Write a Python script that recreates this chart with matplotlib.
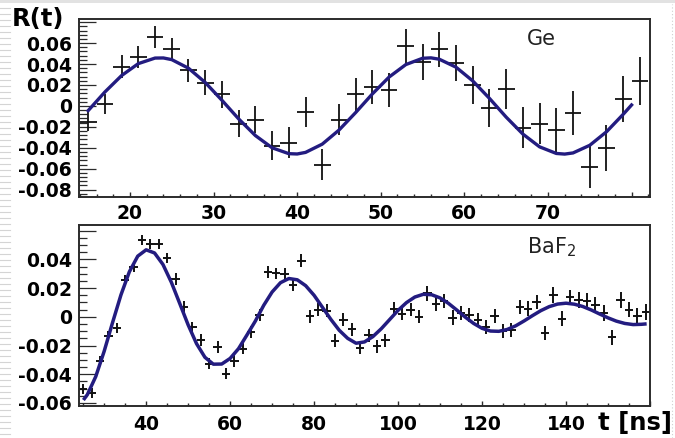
import numpy as np
import matplotlib
matplotlib.use("Agg")
import matplotlib.pyplot as plt
from matplotlib.ticker import MultipleLocator, FixedLocator, FuncFormatter
from matplotlib.lines import Line2D
from matplotlib.patches import Rectangle

plt.rcParams['font.family'] = ['DejaVu Sans']
plt.rcParams['axes.unicode_minus'] = False

# --- Ge: R(t) por bin de 2 ns ---
ge_t = [15, 17, 19, 21, 23, 25, 27, 29, 31, 33, 35, 37, 39, 41, 43, 45, 47,
        49, 51, 53, 55, 57, 59, 61, 63, 65, 67, 69, 71, 73, 75, 77, 79, 81]
ge_r = [-0.015, 0.002, 0.0376, 0.0466, 0.066, 0.054, 0.034, 0.022, 0.011,
        -0.017, -0.013, -0.038, -0.035, -0.006, -0.056, -0.013, 0.011, 0.018,
        0.015, 0.057, 0.042, 0.054, 0.041, 0.020, -0.002, 0.016, -0.021,
        -0.017, -0.023, -0.007, -0.058, -0.0405, 0.0067, 0.024]
ge_err = [0.0088, 0.0096, 0.011, 0.0104, 0.0107, 0.0108, 0.011, 0.012, 0.0128,
          0.0128, 0.013, 0.0136, 0.0144, 0.0144, 0.015, 0.015, 0.0156, 0.016,
          0.016, 0.0167, 0.017, 0.0167, 0.017, 0.018, 0.018, 0.019, 0.0195,
          0.0196, 0.021, 0.021, 0.020, 0.022, 0.022, 0.023]

# curva de ajuste Ge
ge_fit_t = [15, 17, 19, 21, 23, 24, 25, 27, 29, 31, 33, 35, 37, 39, 40, 41, 43,
            45, 47, 49, 51, 53, 55, 56, 57, 59, 61, 63, 65, 67, 69, 71, 72, 73,
            75, 77, 79, 80]
ge_fit_r = [-0.0045, 0.0133, 0.0290, 0.0404, 0.0457, 0.0458, 0.0442, 0.0360,
            0.0224, 0.0054, -0.0124, -0.0283, -0.0400, -0.0456, -0.0459,
            -0.0444, -0.0365, -0.0231, -0.0063, 0.0115, 0.0276, 0.0395, 0.0455,
            0.0459, 0.0446, 0.0370, 0.0239, 0.0072, -0.0107, -0.0269, -0.0391,
            -0.0454, -0.0460, -0.0449, -0.0376, -0.0247, -0.0080, 0.0009]

# --- BaF2 ---
baf_t = [25, 27, 29, 31, 33, 35, 37, 39, 41, 43, 45, 47, 49, 51, 53, 55, 57,
         59, 61, 63, 65, 67, 69, 71, 73, 75, 77, 79, 81, 83, 85, 87, 89, 91,
         93, 95, 97, 99, 101, 103, 105, 107, 109, 111, 113, 115, 117, 119,
         121, 123, 125, 127, 129, 131, 133, 135, 137, 139, 141, 143, 145,
         147, 149, 151, 153, 155, 157, 159]
baf_r = [-0.050, -0.053, -0.0307, -0.0135, -0.008, 0.0256, 0.0344, 0.0535,
         0.051, 0.0505, 0.0407, 0.0263, 0.007, -0.0074, -0.0163, -0.0326,
         -0.021, -0.0395, -0.0307, -0.0221, -0.0105, 0.0012, 0.0314, 0.0302,
         0.0298, 0.0221, 0.039, 0.0005, 0.0051, 0.0042, -0.0165, -0.0019,
         -0.0088, -0.0214, -0.0128, -0.0205, -0.0163, 0.0058, 0.0023, 0.0051,
         0.0, 0.0163, 0.0088, 0.0109, -0.0005, 0.0028, 0.0012, -0.0023,
         -0.007, 0.0005, -0.0098, -0.0093, 0.007, 0.0058, 0.0105, -0.0112,
         0.0151, -0.0012, 0.0135, 0.0116, 0.0112, 0.0081, 0.0028, -0.0144,
         0.0116, 0.0051, 0.0005, 0.0035]
baf_err = [0.0035] * 11 + [0.004] * 15 + [0.0045] * 15 + [0.005] * 15 + [0.0055] * 12

baf_fit_t = [25.3, 26, 28, 30, 32, 34, 36, 38, 40, 42, 44, 46, 48, 50, 52, 54,
             56, 58, 60, 62, 64, 66, 68, 70, 72, 74, 76, 78, 80, 82, 84, 86,
             88, 90, 92, 94, 96, 98, 100, 102, 104, 106, 108, 110, 112, 114,
             116, 118, 120, 122, 124, 126, 128, 130, 132, 134, 136, 138, 140,
             142, 144, 146, 148, 150, 152, 154, 156, 158, 158.8]
baf_fit_r = [-0.0570, -0.0542, -0.0416, -0.0240, -0.0040, 0.0153, 0.0314,
             0.0423, 0.0467, 0.0445, 0.0365, 0.0241, 0.0093, -0.0056, -0.0187,
             -0.0282, -0.0330, -0.0329, -0.0290, -0.0222, -0.0127, -0.0030,
             0.0080, 0.0173, 0.0238, 0.0267, 0.0258, 0.0217, 0.0150, 0.0066,
             -0.0018, -0.0094, -0.0150, -0.0184, -0.0175, -0.0138, -0.0083,
             -0.0019, 0.0045, 0.0099, 0.0138, 0.0157, 0.0154, 0.0132, 0.0094,
             0.0047, -0.0002, -0.0046, -0.0080, -0.0099, -0.0101, -0.0088,
             -0.0063, -0.0029, 0.0008, 0.0043, 0.0071, 0.0089, 0.0095, 0.0088,
             0.0072, 0.0048, 0.0020, -0.0007, -0.0030, -0.0046, -0.0054,
             -0.0052, -0.0050]

COLOR_AJUSTE = '#231c80'
COLOR_MARCO = '#2b2b2b'


def etiqueta_y(tope):
    # ROOT no rotula la última marca junto al borde
    def fmt(v, pos):
        if abs(v - tope) < 1e-6:
            return ''
        if abs(v) < 1e-9:
            return '0'
        return f'{v:.2f}'
    return FuncFormatter(fmt)


def etiqueta_x(tope):
    def fmt(v, pos):
        if abs(v - tope) < 1e-6:
            return ''
        return f'{v:.0f}'
    return FuncFormatter(fmt)


def estilo(ax, xlim, ylim, xmaj, xmin, xtope, yticks, ymin, pad_x):
    ax.set_xlim(*xlim)
    ax.set_ylim(*ylim)
    ax.xaxis.set_major_locator(MultipleLocator(xmaj))
    ax.xaxis.set_minor_locator(MultipleLocator(xmin))
    ax.xaxis.set_major_formatter(etiqueta_x(xtope))
    ax.yaxis.set_major_locator(FixedLocator(yticks))
    ax.yaxis.set_minor_locator(MultipleLocator(ymin))
    ax.yaxis.set_major_formatter(etiqueta_y(yticks[-1]))
    ax.tick_params(axis='y', which='major', direction='in', length=12, width=0.9,
                   color=COLOR_MARCO, pad=5, labelsize=13.5)
    ax.tick_params(axis='y', which='minor', direction='in', length=5.5, width=0.9,
                   color=COLOR_MARCO)
    ax.tick_params(axis='x', which='major', direction='in', length=3.5, width=1.0,
                   color=COLOR_MARCO, pad=pad_x, labelsize=13.5)
    ax.tick_params(axis='x', which='minor', direction='in', length=2, width=1.0,
                   color=COLOR_MARCO)
    for lab in ax.get_xticklabels() + ax.get_yticklabels():
        lab.set_fontweight('bold')
    for s in ax.spines.values():
        s.set_color(COLOR_MARCO)
        s.set_linewidth(1.4)


fig = plt.figure(figsize=(6.75, 4.38), dpi=100)
ax1 = fig.add_axes([0.1170, 0.5502, 0.8459, 0.4064])
ax2 = fig.add_axes([0.1170, 0.0742, 0.8459, 0.4121])

# panel superior: Ge
ax1.errorbar(ge_t, ge_r, yerr=ge_err, xerr=1, fmt='none', ecolor='#111111',
             elinewidth=1.3, capsize=0, zorder=2)
ax1.plot(ge_fit_t, ge_fit_r, color=COLOR_AJUSTE, lw=2.4, zorder=3,
         solid_joinstyle='round')
estilo(ax1, (13.9, 82.2), (-0.087, 0.083), 10, 2, 80,
       [-0.08, -0.06, -0.04, -0.02, 0.0, 0.02, 0.04, 0.06, 0.08], 0.004, 5)

# panel inferior: BaF2
ax2.errorbar(baf_t, baf_r, yerr=baf_err, xerr=1, fmt='none', ecolor='#111111',
             elinewidth=1.4, capsize=0, zorder=2)
ax2.plot(baf_fit_t, baf_fit_r, color=COLOR_AJUSTE, lw=2.5, zorder=3,
         solid_joinstyle='round')
estilo(ax2, (24, 160), (-0.0618, 0.064), 20, 5, 160,
       [-0.06, -0.04, -0.02, 0.0, 0.02, 0.04, 0.06], 0.005, 6.5)

fig.text(12 / 675, 1 - 26 / 438, 'R(t)', fontsize=17.5, fontweight='bold',
         ha='left', va='baseline')
fig.text(527 / 675, 1 - 45 / 438, 'Ge', fontsize=15, ha='left', va='baseline',
         color='#222222')
fig.text(527 / 675, 1 - 253 / 438, 'BaF$_2$', fontsize=15, ha='left',
         va='baseline', color='#222222')
fig.text(672 / 675, 1 - 430 / 438, 't [ns]', fontsize=17.5, fontweight='bold',
         ha='right', va='baseline')

# bordes grises del fondo
fig.add_artist(Rectangle((0, 1 - 3 / 438), 1, 3 / 438, transform=fig.transFigure,
                         color='#e2e2e2', lw=0))
for yy in np.arange(8, 438, 6):
    fig.add_artist(Line2D([0, 10 / 675], [1 - yy / 438] * 2, transform=fig.transFigure,
                          color='#d4d4d4', lw=0.8))
fig.add_artist(Line2D([672 / 675] * 2, [0, 0.99], transform=fig.transFigure,
                      color='#cfcfcf', lw=0.8, linestyle=(0, (1, 2))))

plt.savefig('out.png', dpi=100)
